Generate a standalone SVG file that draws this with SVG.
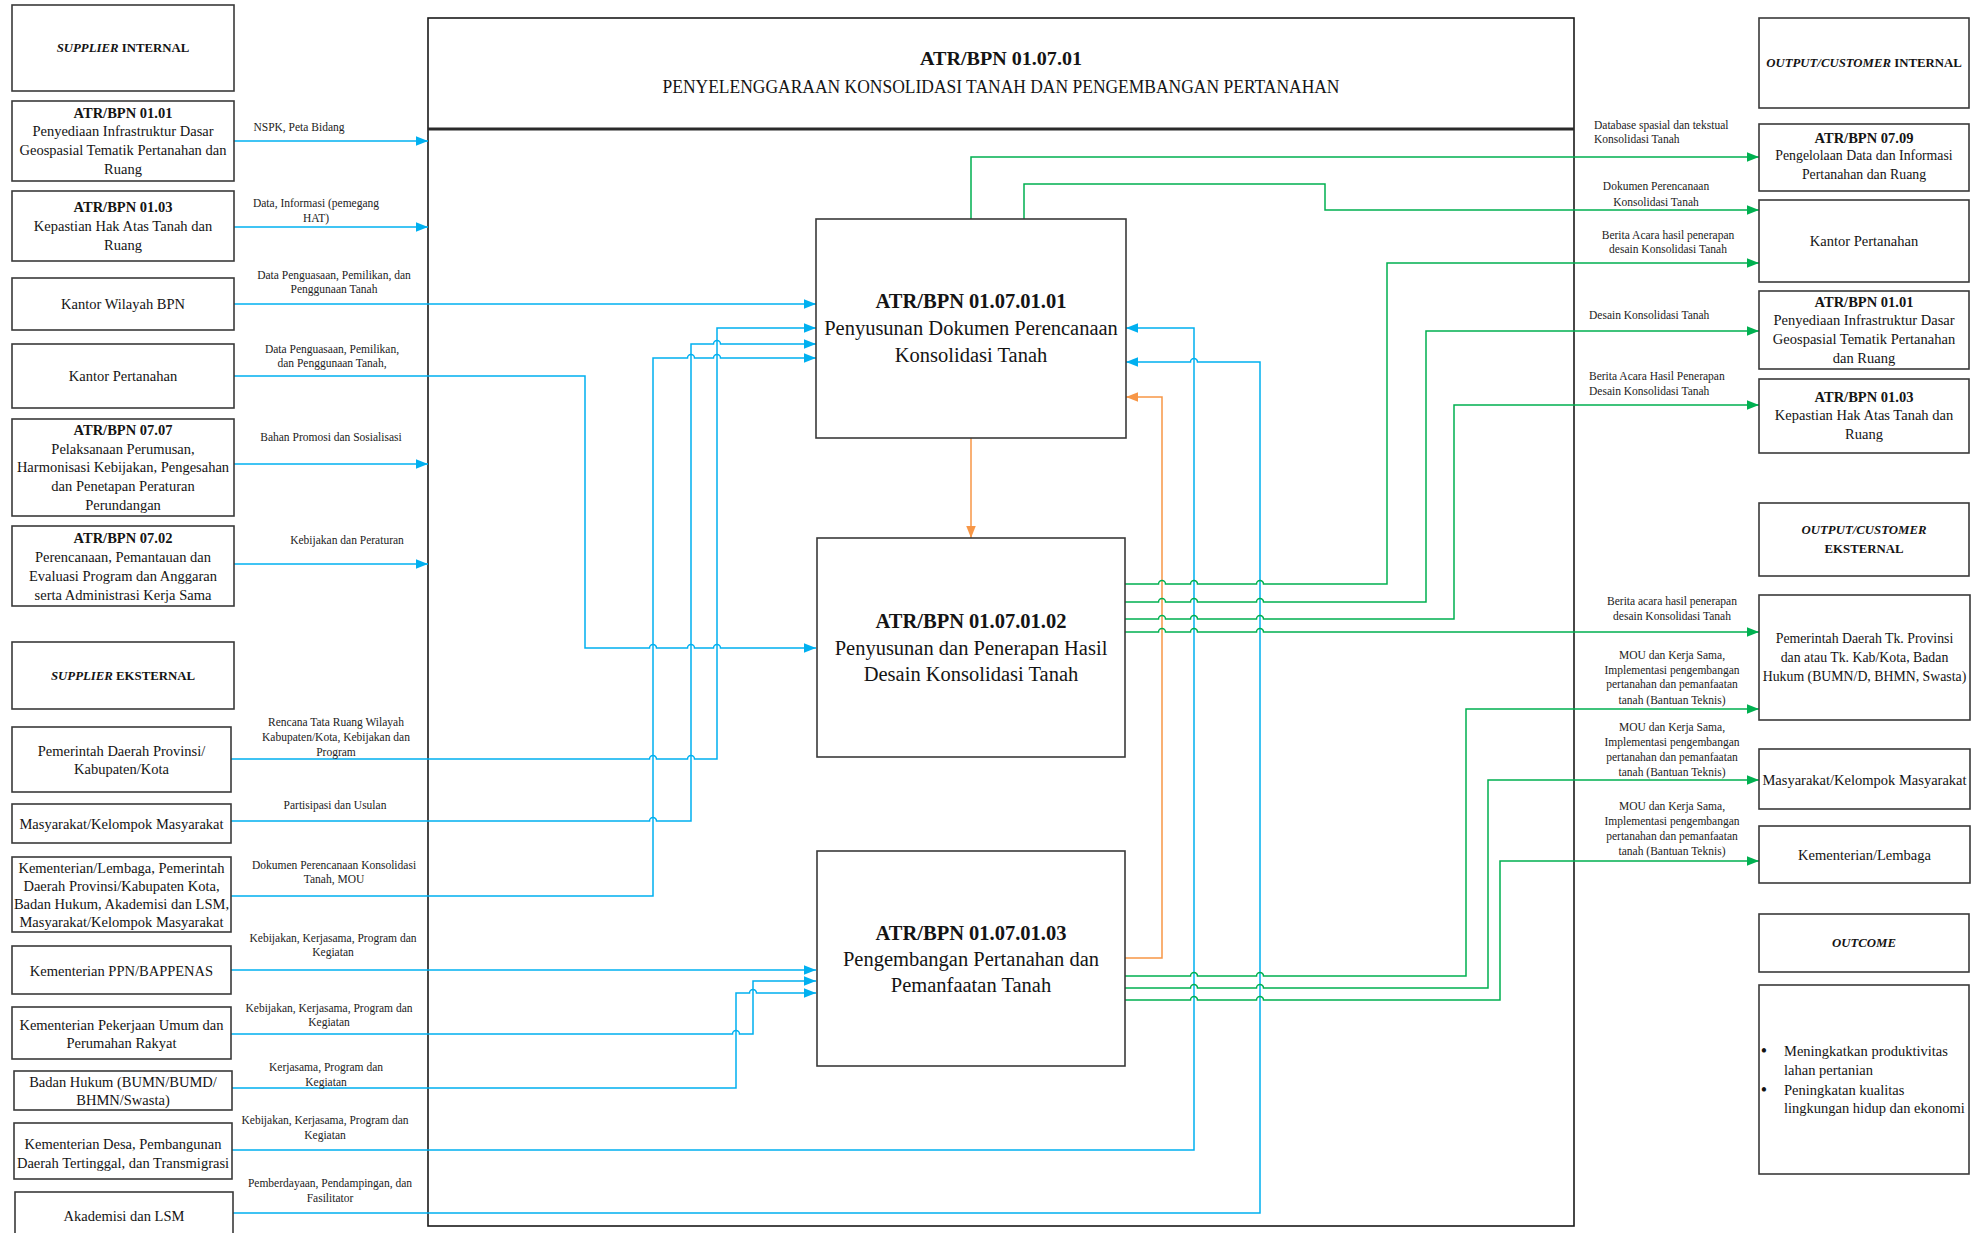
<svg xmlns="http://www.w3.org/2000/svg" width="1977" height="1233" viewBox="0 0 1977 1233">
  <defs>
    <style>
      .bg { fill: #ffffff; }
      .box { fill: #ffffff; stroke: #3a3a3a; stroke-width: 1.6; }
      .frame { fill: none; stroke: #1a1a1a; stroke-width: 1.6; }
      .hdr { stroke: #2a2a2a; stroke-width: 3; }
      text { font-family: "Liberation Serif", "Times New Roman", serif; fill: #141414; }
      .t { font-size: 14.5px; text-anchor: middle; }
      .ts { font-size: 13.8px; text-anchor: middle; }
      .h { font-size: 12.8px; font-weight: bold; text-anchor: middle; }
      .b { font-weight: bold; }
      .i { font-style: italic; }
      .p { font-size: 20.5px; text-anchor: middle; }
      .pb { font-size: 20.5px; font-weight: bold; text-anchor: middle; }
      .l { font-size: 11.5px; text-anchor: middle; fill: #222; }
      .ls { font-size: 11.5px; text-anchor: start; fill: #222; }
      .cb { fill: none; stroke: #00B0F0; stroke-width: 1.5; }
      .cg { fill: none; stroke: #00B050; stroke-width: 1.5; }
      .co { fill: none; stroke: #F79646; stroke-width: 1.5; }
    </style>
    <marker id="ab" markerUnits="userSpaceOnUse" markerWidth="13" markerHeight="10" refX="12" refY="4.75" orient="auto">
      <path d="M0,0 L12,4.75 L0,9.5 z" fill="#00B0F0"/>
    </marker>
    <marker id="ag" markerUnits="userSpaceOnUse" markerWidth="13" markerHeight="10" refX="12" refY="4.75" orient="auto">
      <path d="M0,0 L12,4.75 L0,9.5 z" fill="#00B050"/>
    </marker>
    <marker id="ao" markerUnits="userSpaceOnUse" markerWidth="13" markerHeight="10" refX="12" refY="4.75" orient="auto">
      <path d="M0,0 L12,4.75 L0,9.5 z" fill="#F79646"/>
    </marker>
  </defs>

  <rect class="bg" x="0" y="0" width="1977" height="1233"/>

  <!-- process frame with header -->
  <g id="frame">
    <rect class="frame" x="428" y="18" width="1146" height="1208"/>
    <line class="hdr" x1="428" y1="129" x2="1574" y2="129"/>
    <text class="b" x="1001" y="65" text-anchor="middle" font-size="19" textLength="162" lengthAdjust="spacingAndGlyphs">ATR/BPN 01.07.01</text>
    <text x="1001" y="93" text-anchor="middle" font-size="19.5" textLength="677" lengthAdjust="spacingAndGlyphs">PENYELENGGARAAN KONSOLIDASI TANAH DAN PENGEMBANGAN PERTANAHAN</text>
  </g>

  <!-- connectors -->
  <g id="connectors">
    <!-- internal suppliers -->
    <path class="cb" d="M234,141 H428" marker-end="url(#ab)"/>
    <path class="cb" d="M234,227 H428" marker-end="url(#ab)"/>
    <path class="cb" d="M234,304 H816" marker-end="url(#ab)"/>
    <path class="cb" d="M234,376 H585 V648 H649.5 a3.5,3.5 0 0 1 7,0 H687.5 a3.5,3.5 0 0 1 7,0 H713.5 a3.5,3.5 0 0 1 7,0 H816" marker-end="url(#ab)"/>
    <path class="cb" d="M234,464 H428" marker-end="url(#ab)"/>
    <path class="cb" d="M234,564 H428" marker-end="url(#ab)"/>
    <!-- external suppliers -->
    <path class="cb" d="M231,759 H649.5 a3.5,3.5 0 0 1 7,0 H687.5 a3.5,3.5 0 0 1 7,0 H717 V328 H816" marker-end="url(#ab)"/>
    <path class="cb" d="M231,821 H649.5 a3.5,3.5 0 0 1 7,0 H691 V344 H713.5 a3.5,3.5 0 0 1 7,0 H816" marker-end="url(#ab)"/>
    <path class="cb" d="M231,896 H653 V358 H687.5 a3.5,3.5 0 0 1 7,0 H713.5 a3.5,3.5 0 0 1 7,0 H816" marker-end="url(#ab)"/>
    <path class="cb" d="M231,970 H816" marker-end="url(#ab)"/>
    <path class="cb" d="M231,1034 H732.5 a3.5,3.5 0 0 1 7,0 H753 V981 H816" marker-end="url(#ab)"/>
    <path class="cb" d="M232,1088 H736 V993 H749.5 a3.5,3.5 0 0 1 7,0 H816" marker-end="url(#ab)"/>
    <path class="cb" d="M232,1150 H1194 V328 H1126" marker-end="url(#ab)"/>
    <path class="cb" d="M233,1213 H1260 V362 H1197.5 a3.5,3.5 0 0 0 -7,0 H1126" marker-end="url(#ab)"/>
    <!-- internal flow -->
    <path class="co" d="M971,438 V538" marker-end="url(#ao)"/>
    <path class="co" d="M1125,958 H1162 V397 H1126" marker-end="url(#ao)"/>
    <!-- outputs -->
    <path class="cg" d="M971,219 V157 H1759" marker-end="url(#ag)"/>
    <path class="cg" d="M1024,219 V184 H1325 V210 H1759" marker-end="url(#ag)"/>
    <path class="cg" d="M1125,584 H1158.5 a3.5,3.5 0 0 1 7,0 H1190.5 a3.5,3.5 0 0 1 7,0 H1256.5 a3.5,3.5 0 0 1 7,0 H1387 V263 H1759" marker-end="url(#ag)"/>
    <path class="cg" d="M1125,602 H1158.5 a3.5,3.5 0 0 1 7,0 H1190.5 a3.5,3.5 0 0 1 7,0 H1256.5 a3.5,3.5 0 0 1 7,0 H1426 V331 H1759" marker-end="url(#ag)"/>
    <path class="cg" d="M1125,619 H1158.5 a3.5,3.5 0 0 1 7,0 H1190.5 a3.5,3.5 0 0 1 7,0 H1256.5 a3.5,3.5 0 0 1 7,0 H1454 V405 H1759" marker-end="url(#ag)"/>
    <path class="cg" d="M1125,632 H1158.5 a3.5,3.5 0 0 1 7,0 H1190.5 a3.5,3.5 0 0 1 7,0 H1256.5 a3.5,3.5 0 0 1 7,0 H1759" marker-end="url(#ag)"/>
    <path class="cg" d="M1125,976 H1190.5 a3.5,3.5 0 0 1 7,0 H1256.5 a3.5,3.5 0 0 1 7,0 H1466 V709 H1759" marker-end="url(#ag)"/>
    <path class="cg" d="M1125,988 H1190.5 a3.5,3.5 0 0 1 7,0 H1256.5 a3.5,3.5 0 0 1 7,0 H1488 V780 H1759" marker-end="url(#ag)"/>
    <path class="cg" d="M1125,1000 H1190.5 a3.5,3.5 0 0 1 7,0 H1256.5 a3.5,3.5 0 0 1 7,0 H1500 V861 H1759" marker-end="url(#ag)"/>

    <!-- input labels -->
    <text class="l" x="299" y="131">NSPK, Peta Bidang</text>
    <text class="l" x="316" y="207">Data, Informasi (pemegang</text>
    <text class="l" x="316" y="222">HAT)</text>
    <text class="l" x="334" y="279">Data Penguasaan, Pemilikan, dan</text>
    <text class="l" x="334" y="293">Penggunaan Tanah</text>
    <text class="l" x="332" y="353">Data Penguasaan, Pemilikan,</text>
    <text class="l" x="332" y="367">dan Penggunaan Tanah,</text>
    <text class="l" x="331" y="441">Bahan Promosi dan Sosialisasi</text>
    <text class="l" x="347" y="544">Kebijakan dan Peraturan</text>
    <text class="l" x="336" y="726">Rencana Tata Ruang Wilayah</text>
    <text class="l" x="336" y="741">Kabupaten/Kota, Kebijakan dan</text>
    <text class="l" x="336" y="756">Program</text>
    <text class="l" x="335" y="809">Partisipasi dan Usulan</text>
    <text class="l" x="334" y="869">Dokumen Perencanaan Konsolidasi</text>
    <text class="l" x="334" y="883">Tanah, MOU</text>
    <text class="l" x="333" y="942">Kebijakan, Kerjasama, Program dan</text>
    <text class="l" x="333" y="956">Kegiatan</text>
    <text class="l" x="329" y="1012">Kebijakan, Kerjasama, Program dan</text>
    <text class="l" x="329" y="1026">Kegiatan</text>
    <text class="l" x="326" y="1071">Kerjasama, Program dan</text>
    <text class="l" x="326" y="1086">Kegiatan</text>
    <text class="l" x="325" y="1124">Kebijakan, Kerjasama, Program dan</text>
    <text class="l" x="325" y="1139">Kegiatan</text>
    <text class="l" x="330" y="1187">Pemberdayaan, Pendampingan, dan</text>
    <text class="l" x="330" y="1202">Fasilitator</text>

    <!-- output labels -->
    <text class="ls" x="1594" y="129">Database spasial dan tekstual</text>
    <text class="ls" x="1594" y="143">Konsolidasi Tanah</text>
    <text class="l" x="1656" y="190">Dokumen Perencanaan</text>
    <text class="l" x="1656" y="206">Konsolidasi Tanah</text>
    <text class="l" x="1668" y="239">Berita Acara hasil penerapan</text>
    <text class="l" x="1668" y="253">desain Konsolidasi Tanah</text>
    <text class="ls" x="1589" y="319">Desain Konsolidasi Tanah</text>
    <text class="ls" x="1589" y="380">Berita Acara Hasil Penerapan</text>
    <text class="ls" x="1589" y="395">Desain Konsolidasi Tanah</text>
    <text class="l" x="1672" y="605">Berita acara hasil penerapan</text>
    <text class="l" x="1672" y="620">desain Konsolidasi Tanah</text>
    <text class="l" x="1672" y="659">MOU dan Kerja Sama,</text>
    <text class="l" x="1672" y="674">Implementasi pengembangan</text>
    <text class="l" x="1672" y="688">pertanahan dan pemanfaatan</text>
    <text class="l" x="1672" y="704">tanah (Bantuan Teknis)</text>
    <text class="l" x="1672" y="731">MOU dan Kerja Sama,</text>
    <text class="l" x="1672" y="746">Implementasi pengembangan</text>
    <text class="l" x="1672" y="761">pertanahan dan pemanfaatan</text>
    <text class="l" x="1672" y="776">tanah (Bantuan Teknis)</text>
    <text class="l" x="1672" y="810">MOU dan Kerja Sama,</text>
    <text class="l" x="1672" y="825">Implementasi pengembangan</text>
    <text class="l" x="1672" y="840">pertanahan dan pemanfaatan</text>
    <text class="l" x="1672" y="855">tanah (Bantuan Teknis)</text>
  </g>

  <!-- sub-processes -->
  <g id="proc-01">
    <rect class="box" x="816" y="219" width="310" height="219"/>
    <text class="pb" x="971" y="308">ATR/BPN 01.07.01.01</text>
    <text class="p" x="971" y="335">Penyusunan Dokumen Perencanaan</text>
    <text class="p" x="971" y="362">Konsolidasi Tanah</text>
  </g>
  <g id="proc-02">
    <rect class="box" x="817" y="538" width="308" height="219"/>
    <text class="pb" x="971" y="628">ATR/BPN 01.07.01.02</text>
    <text class="p" x="971" y="655">Penyusunan dan Penerapan Hasil</text>
    <text class="p" x="971" y="681">Desain Konsolidasi Tanah</text>
  </g>
  <g id="proc-03">
    <rect class="box" x="817" y="851" width="308" height="215"/>
    <text class="pb" x="971" y="940">ATR/BPN 01.07.01.03</text>
    <text class="p" x="971" y="966">Pengembangan Pertanahan dan</text>
    <text class="p" x="971" y="992">Pemanfaatan Tanah</text>
  </g>

  <!-- suppliers -->
  <g id="supplier-internal">
    <rect class="box" x="12" y="5" width="222" height="86"/>
    <text class="h" x="123" y="52"><tspan class="i">SUPPLIER</tspan> INTERNAL</text>
  </g>
  <g id="s-0101">
    <rect class="box" x="12" y="101" width="222" height="80"/>
    <text class="t b" x="123" y="118">ATR/BPN 01.01</text>
    <text class="t" x="123" y="136">Penyediaan Infrastruktur Dasar</text>
    <text class="t" x="123" y="155">Geospasial Tematik Pertanahan dan</text>
    <text class="t" x="123" y="174">Ruang</text>
  </g>
  <g id="s-0103">
    <rect class="box" x="12" y="191" width="222" height="70"/>
    <text class="t b" x="123" y="212">ATR/BPN 01.03</text>
    <text class="t" x="123" y="231">Kepastian Hak Atas Tanah dan</text>
    <text class="t" x="123" y="250">Ruang</text>
  </g>
  <g id="s-kanwil">
    <rect class="box" x="12" y="278" width="222" height="52"/>
    <text class="t" x="123" y="309">Kantor Wilayah BPN</text>
  </g>
  <g id="s-kantah">
    <rect class="box" x="12" y="344" width="222" height="64"/>
    <text class="t" x="123" y="381">Kantor Pertanahan</text>
  </g>
  <g id="s-0707">
    <rect class="box" x="12" y="419" width="222" height="97"/>
    <text class="t b" x="123" y="435">ATR/BPN 07.07</text>
    <text class="t" x="123" y="454">Pelaksanaan Perumusan,</text>
    <text class="t" x="123" y="472">Harmonisasi Kebijakan, Pengesahan</text>
    <text class="t" x="123" y="491">dan Penetapan Peraturan</text>
    <text class="t" x="123" y="510">Perundangan</text>
  </g>
  <g id="s-0702">
    <rect class="box" x="12" y="526" width="222" height="80"/>
    <text class="t b" x="123" y="543">ATR/BPN 07.02</text>
    <text class="t" x="123" y="562">Perencanaan, Pemantauan dan</text>
    <text class="t" x="123" y="581">Evaluasi Program dan Anggaran</text>
    <text class="t" x="123" y="600">serta Administrasi Kerja Sama</text>
  </g>
  <g id="supplier-eksternal">
    <rect class="box" x="12" y="642" width="222" height="67"/>
    <text class="h" x="123" y="680"><tspan class="i">SUPPLIER</tspan> EKSTERNAL</text>
  </g>
  <g id="s-pemda">
    <rect class="box" x="12" y="727" width="219" height="65"/>
    <text class="t" x="121.5" y="756">Pemerintah Daerah Provinsi/</text>
    <text class="t" x="121.5" y="774">Kabupaten/Kota</text>
  </g>
  <g id="s-masyarakat">
    <rect class="box" x="12" y="804" width="219" height="39"/>
    <text class="t" x="121.5" y="829">Masyarakat/Kelompok Masyarakat</text>
  </g>
  <g id="s-kl">
    <rect class="box" x="12" y="857" width="219" height="75"/>
    <text class="t" x="121.5" y="873">Kementerian/Lembaga, Pemerintah</text>
    <text class="t" x="121.5" y="891">Daerah Provinsi/Kabupaten Kota,</text>
    <text class="t" x="121.5" y="909">Badan Hukum, Akademisi dan LSM,</text>
    <text class="t" x="121.5" y="927">Masyarakat/Kelompok Masyarakat</text>
  </g>
  <g id="s-bappenas">
    <rect class="box" x="12" y="946" width="219" height="48"/>
    <text class="t" x="121.5" y="976">Kementerian PPN/BAPPENAS</text>
  </g>
  <g id="s-pupr">
    <rect class="box" x="12" y="1007" width="219" height="52"/>
    <text class="t" x="121.5" y="1030">Kementerian Pekerjaan Umum dan</text>
    <text class="t" x="121.5" y="1048">Perumahan Rakyat</text>
  </g>
  <g id="s-badanhukum">
    <rect class="box" x="14" y="1071" width="218" height="39"/>
    <text class="t" x="123" y="1087">Badan Hukum (BUMN/BUMD/</text>
    <text class="t" x="123" y="1105">BHMN/Swasta)</text>
  </g>
  <g id="s-desa">
    <rect class="box" x="14" y="1123" width="218" height="56"/>
    <text class="t" x="123" y="1149">Kementerian Desa, Pembangunan</text>
    <text class="t" x="123" y="1168">Daerah Tertinggal, dan Transmigrasi</text>
  </g>
  <g id="s-akademisi">
    <rect class="box" x="15" y="1192" width="218" height="50"/>
    <text class="t" x="124" y="1221">Akademisi dan LSM</text>
  </g>

  <!-- customers -->
  <g id="customer-internal">
    <rect class="box" x="1759" y="18" width="210" height="90"/>
    <text class="h" x="1864" y="67"><tspan class="i">OUTPUT/CUSTOMER</tspan> INTERNAL</text>
  </g>
  <g id="c-0709">
    <rect class="box" x="1759" y="124" width="210" height="67"/>
    <text class="t b" x="1864" y="143">ATR/BPN 07.09</text>
    <text class="ts" x="1864" y="160">Pengelolaan Data dan Informasi</text>
    <text class="ts" x="1864" y="179">Pertanahan dan Ruang</text>
  </g>
  <g id="c-kantah">
    <rect class="box" x="1759" y="200" width="210" height="82"/>
    <text class="t" x="1864" y="246">Kantor Pertanahan</text>
  </g>
  <g id="c-0101">
    <rect class="box" x="1759" y="291" width="210" height="78"/>
    <text class="t b" x="1864" y="307">ATR/BPN 01.01</text>
    <text class="t" x="1864" y="325">Penyediaan Infrastruktur Dasar</text>
    <text class="t" x="1864" y="344">Geospasial Tematik Pertanahan</text>
    <text class="t" x="1864" y="363">dan Ruang</text>
  </g>
  <g id="c-0103">
    <rect class="box" x="1759" y="379" width="210" height="74"/>
    <text class="t b" x="1864" y="402">ATR/BPN 01.03</text>
    <text class="t" x="1864" y="420">Kepastian Hak Atas Tanah dan</text>
    <text class="t" x="1864" y="439">Ruang</text>
  </g>
  <g id="customer-eksternal">
    <rect class="box" x="1759" y="503" width="210" height="73"/>
    <text class="h i" x="1864" y="534">OUTPUT/CUSTOMER</text>
    <text class="h" x="1864" y="553">EKSTERNAL</text>
  </g>
  <g id="c-pemda">
    <rect class="box" x="1759" y="595" width="211" height="125"/>
    <text class="ts" x="1864.5" y="643">Pemerintah Daerah Tk. Provinsi</text>
    <text class="ts" x="1864.5" y="662">dan atau Tk. Kab/Kota, Badan</text>
    <text class="ts" x="1864.5" y="681">Hukum (BUMN/D, BHMN, Swasta)</text>
  </g>
  <g id="c-masyarakat">
    <rect class="box" x="1759" y="749" width="211" height="60"/>
    <text class="t" x="1864.5" y="785">Masyarakat/Kelompok Masyarakat</text>
  </g>
  <g id="c-kl">
    <rect class="box" x="1759" y="826" width="211" height="57"/>
    <text class="t" x="1864.5" y="860">Kementerian/Lembaga</text>
  </g>
  <g id="outcome">
    <rect class="box" x="1759" y="914" width="210" height="58"/>
    <text class="h i" x="1864" y="947">OUTCOME</text>
  </g>
  <g id="outcome-items">
    <rect class="box" x="1759" y="985" width="210" height="189"/>
    <text x="1764" y="1057" font-size="18" text-anchor="middle">•</text>
    <text x="1764" y="1096" font-size="18" text-anchor="middle">•</text>
    <text font-size="14.5" x="1784" y="1056">Meningkatkan produktivitas</text>
    <text font-size="14.5" x="1784" y="1075">lahan pertanian</text>
    <text font-size="14.5" x="1784" y="1095">Peningkatan kualitas</text>
    <text font-size="14.5" x="1784" y="1113">lingkungan hidup dan ekonomi</text>
  </g>
</svg>
